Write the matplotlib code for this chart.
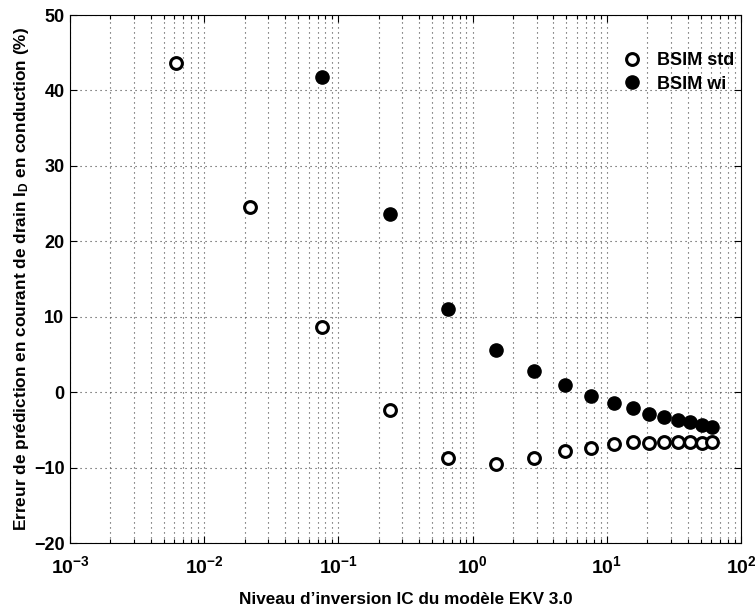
import matplotlib
matplotlib.use("Agg")
import matplotlib.pyplot as plt
from matplotlib.ticker import LogLocator, FuncFormatter, NullFormatter
import numpy as np

plt.rcParams['font.family'] = ['Liberation Sans', 'DejaVu Sans']
plt.rcParams['mathtext.fontset'] = 'custom'
plt.rcParams['mathtext.rm'] = 'Liberation Sans:bold'
plt.rcParams['mathtext.bf'] = 'Liberation Sans:bold'
plt.rcParams['mathtext.it'] = 'Liberation Sans:bold'

# Data
ic_std = [0.00615, 0.0218, 0.0755, 0.241, 0.66, 1.49, 2.89, 4.92, 7.69,
          11.3, 15.6, 20.6, 26.6, 33.9, 41.6, 51.2, 60.8]
err_std = [43.6, 24.6, 8.7, -2.4, -8.7, -9.5, -8.7, -7.75, -7.4,
           -6.9, -6.6, -6.7, -6.65, -6.6, -6.6, -6.7, -6.65]
ic_wi = [0.0755, 0.241, 0.66, 1.49, 2.89, 4.92, 7.69,
         11.3, 15.6, 20.6, 26.6, 33.9, 41.6, 51.2, 60.8]
err_wi = [41.8, 23.6, 11.0, 5.55, 2.75, 1.0, -0.55,
          -1.4, -2.1, -2.85, -3.35, -3.7, -4.0, -4.35, -4.6]

xlabel = "Niveau d\u2019inversion IC du modèle EKV 3.0"
ylabel = "Erreur de prédiction en courant de drain I$_{D}$ en conduction (%)"
labels = ["BSIM std", "BSIM wi"]

fig = plt.figure(figsize=(7.56, 6.08), dpi=100)
ax = fig.add_axes([70/756, 1-543/608, (741-70)/756, (543-15)/608])

ax.plot(ic_std, err_std, linestyle='none', marker='o', markersize=8.5,
        markerfacecolor='white', markeredgecolor='black', markeredgewidth=2.2,
        label=labels[0])
ax.plot(ic_wi, err_wi, linestyle='none', marker='o', markersize=9.5,
        markerfacecolor='black', markeredgecolor='black', markeredgewidth=1,
        label=labels[1])

ax.set_xscale('log')
ax.set_xlim(1e-3, 1e2)
ax.set_ylim(-20, 50)
ax.set_yticks(np.arange(-20, 51, 10))
ax.xaxis.set_major_locator(LogLocator(base=10, numticks=10))
ax.xaxis.set_minor_locator(LogLocator(base=10, subs=np.arange(2, 10), numticks=100))
ax.xaxis.set_minor_formatter(NullFormatter())
ax.xaxis.set_major_formatter(FuncFormatter(lambda v, p: r'$\mathbf{10^{%d}}$' % int(round(np.log10(v)))))

gridstyle = dict(linestyle=(0, (1, 3.5)), color='#444444', linewidth=0.8)
ax.grid(True, which='major', axis='both', **gridstyle)
ax.grid(True, which='minor', axis='x', **gridstyle)

ax.tick_params(which='both', direction='in', top=True, right=True, labelsize=13, width=0.8)
ax.tick_params(which='major', length=5)
ax.tick_params(which='minor', length=3)
ax.tick_params(axis='x', which='major', pad=9, labelsize=14)
ax.tick_params(axis='y', which='major', pad=4)
for lab in ax.get_yticklabels():
    lab.set_fontweight('bold')
for sp in ax.spines.values():
    sp.set_linewidth(0.8)

ax.set_xlabel(xlabel, fontsize=12.3, fontweight='bold')
ax.set_ylabel(ylabel, fontsize=12.4, fontweight='bold')
ax.xaxis.set_label_coords(0.5, -0.092)
ax.yaxis.set_label_coords(-0.058, 0.5)

leg = ax.legend(loc='upper right', frameon=False, prop={'weight': 'bold', 'size': 13},
                handletextpad=0.6, borderaxespad=0.0, labelspacing=0.35, handlelength=1.5,
                bbox_to_anchor=(1.0, 0.943))

fig.savefig('out.png', dpi=100)
